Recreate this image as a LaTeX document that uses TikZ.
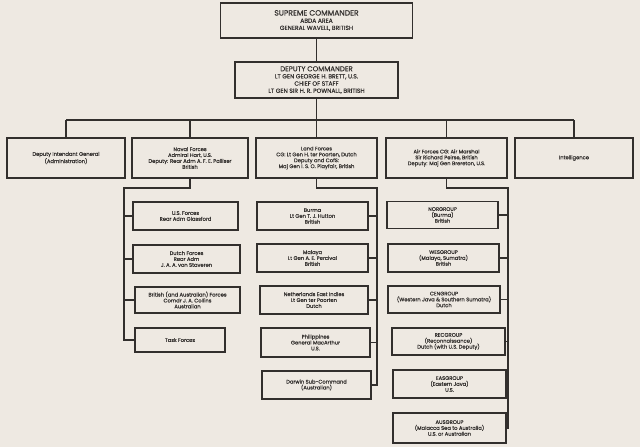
\documentclass[tikz,border=0pt]{standalone}
\usepackage{fontspec}
\setmainfont{Poppins}[FakeBold=0.35]
\definecolor{paper}{RGB}{238,233,226}
\definecolor{ink}{RGB}{50,47,45}
\begin{document}
\begin{tikzpicture}[x=1pt,y=-1pt,
  box/.style={draw=ink, line width=1.1pt, fill=paper, inner sep=1pt, align=center, text=ink,
    font=\fontsize{5.2}{5.9}\selectfont},
  topbox/.style={box, font=\fontsize{6}{7.2}\selectfont},
  conn/.style={draw=ink, line width=1.4pt}]
\useasboundingbox[fill=paper] (0,0) rectangle (640,447);
% top
\node[topbox, minimum width=192, minimum height=35] (sup) at (316.5,20.5)
  {{\fontsize{7.6}{8.5}\selectfont SUPREME COMMANDER}\\ABDA AREA\\GENERAL WAVELL, BRITISH};
\node[topbox, minimum width=163, minimum height=36] (dep) at (316.5,80)
  {{\fontsize{7}{8}\selectfont DEPUTY COMMANDER}\\LT GEN GEORGE H. BRETT, U.S.\\CHIEF OF STAFF\\LT GEN SIR H. R. POWNALL, BRITISH};
% main row
\node[box, minimum width=118, minimum height=40] (dig) at (66,158)
  {Deputy Intendant General\\(Administration)};
\node[box, minimum width=116, minimum height=40] (nav) at (190,158)
  {Naval Forces\\Admiral Hart, U.S.\\Deputy: Rear Adm A. F. E. Palliser\\British};
\node[box, minimum width=121, minimum height=40] (land) at (316.5,158)
  {Land Forces\\CG: Lt Gen H. ter Poorten, Dutch\\Deputy and CofS:\\Maj Gen I. S. O. Playfair, British};
\node[box, minimum width=121, minimum height=40] (air) at (446.5,158)
  {Air Forces CG: Air Marshal\\Sir Richard Peirse, British\\Deputy: Maj Gen Brereton, U.S.};
\node[box, minimum width=118, minimum height=40] (intel) at (574,158)
  {Intelligence};
% naval subs
\node[box, minimum width=105, minimum height=28] (us) at (185.5,216) {U.S. Forces\\Rear Adm Glassford};
\node[box, minimum width=107, minimum height=28] (dutch) at (186.5,259) {Dutch Forces\\Rear Adm\\J. A. A. von Staveren};
\node[box, minimum width=105, minimum height=26] (brit) at (187.5,300) {British (and Australian) Forces\\Comdr J. A. Collins\\Australian};
\node[box, minimum width=90, minimum height=24] (task) at (180,340) {Task Forces};
% land subs
\node[box, minimum width=111, minimum height=28] (burma) at (312.5,216) {Burma\\Lt Gen T. J. Hutton\\British};
\node[box, minimum width=111, minimum height=28] (malaya) at (312.5,258) {Malaya\\Lt Gen A. E. Percival\\British};
\node[box, minimum width=108, minimum height=28] (nei) at (314,300) {Netherlands East Indies\\Lt Gen ter Poorten\\Dutch};
\node[box, minimum width=109, minimum height=29] (phil) at (315.5,342.5) {Philippines\\General MacArthur\\U.S.};
\node[box, minimum width=109, minimum height=28] (darwin) at (316.5,385) {Darwin Sub-Command\\(Australian)};
% air subs
\node[box, minimum width=111, minimum height=27] (nor) at (442.5,215) {NORGROUP\\(Burma)\\British};
\node[box, minimum width=111, minimum height=28] (wes) at (443.5,258) {WESGROUP\\(Malaya, Sumatra)\\British};
\node[box, minimum width=112, minimum height=27] (cen) at (444,299.5) {CENGROUP\\(Western Java \& Southern Sumatra)\\Dutch};
\node[box, minimum width=113, minimum height=27] (rec) at (448.5,341.5) {RECGROUP\\(Reconnaissance)\\Dutch (with U.S. Deputy)};
\node[box, minimum width=113, minimum height=28] (eas) at (449.5,384) {EASGROUP\\(Eastern Java)\\U.S.};
\node[box, minimum width=113, minimum height=30] (aus) at (449.5,428) {AUSGROUP\\(Malacca Sea to Australia)\\U.S. or Australian};
% connectors
\coordinate (hbar) at (0,120);
\coordinate (navx) at (124,188);
\coordinate (landx) at (377,188);
\coordinate (airx) at (508,188);
\draw[conn] (sup.south) -- (dep.north);
\draw[conn] (dep.south) -- (dep.south |- hbar);
\draw[conn] (dig.north |- hbar) -- (intel.north |- hbar);
\foreach \n in {dig,nav,land,air,intel}
  \draw[conn] (\n.north) -- (\n.north |- hbar);
\draw[conn] (nav.south) |- (navx) |- (task.west);
\foreach \n in {us,dutch,brit}
  \draw[conn] (\n.west) -- (\n.west -| navx);
\draw[conn] (land.south) |- (landx) |- (darwin.east);
\foreach \n in {burma,malaya,nei,phil}
  \draw[conn] (\n.east) -- (\n.east -| landx);
\draw[conn] (air.south) |- (airx) |- (aus.east);
\foreach \n in {nor,wes,cen,rec,eas}
  \draw[conn] (\n.east) -- (\n.east -| airx);
\end{tikzpicture}
\end{document}
